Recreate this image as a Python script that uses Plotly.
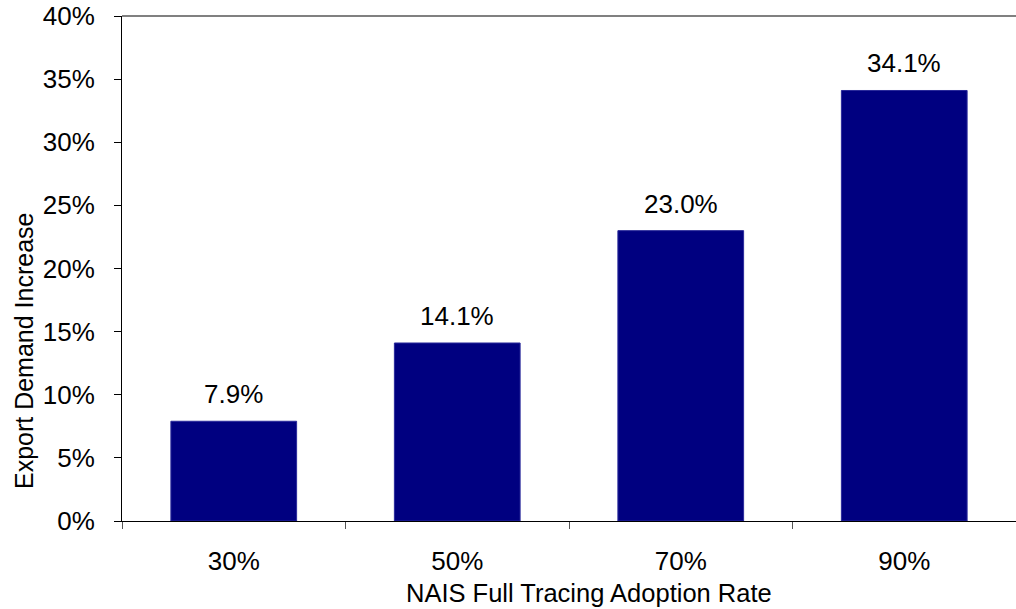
import plotly.graph_objects as go

categories = ["30%", "50%", "70%", "90%"]
values = [7.9, 14.1, 23.0, 34.1]
y_ticks = [0, 5, 10, 15, 20, 25, 30, 35, 40]
y_tick_labels = [f"{v}%" for v in y_ticks]
x_title = "NAIS Full Tracing Adoption Rate"
y_title = "Export Demand Increase"

FONT = "Liberation Sans, Arial, sans-serif"
FS = 26

fig = go.Figure()
fig.add_trace(go.Bar(
    x=categories, y=values,
    marker=dict(color="#000080", line=dict(color="#2a2a9a", width=1)),
    width=0.5625,
    hoverinfo="skip",
))

for c, v in zip(categories, values):
    fig.add_annotation(x=c, y=v, text=f"{v:.1f}%", showarrow=False,
                       xref="x", yref="y", yanchor="bottom", yshift=10,
                       font=dict(family=FONT, size=FS, color="black"))

fig.add_annotation(x=-0.1096, y=0.3366, xref="paper", yref="paper",
                   text=y_title, textangle=-90, showarrow=False,
                   xanchor="center", yanchor="middle",
                   font=dict(family=FONT, size=25, color="black"))
fig.add_annotation(x=0.522, y=-0.1426, xref="paper", yref="paper",
                   text=x_title, showarrow=False,
                   xanchor="center", yanchor="middle",
                   font=dict(family=FONT, size=25.5, color="black"))

# top border of plot area
fig.add_shape(type="line", xref="paper", yref="paper", x0=0, x1=1, y0=1, y1=1,
              line=dict(color="#808080", width=2), layer="above")

fig.update_layout(
    width=1016, height=609,
    margin=dict(l=122, r=0, t=16, b=88, autoexpand=False),
    paper_bgcolor="white", plot_bgcolor="white",
    showlegend=False,
    font=dict(family=FONT, size=FS, color="black"),
    xaxis=dict(
        type="category", range=[-0.5, 3.5],
        tickson="boundaries", ticks="outside", ticklen=7, tickcolor="#555",
        showline=True, linecolor="black", linewidth=1,
        showgrid=False, zeroline=False,
        ticklabelstandoff=17,
        ticklabeloverflow="allow",
        tickfont=dict(family=FONT, size=FS),
    ),
    yaxis=dict(
        range=[0, 40], tickmode="array", tickvals=y_ticks, ticktext=y_tick_labels,
        ticks="outside", ticklen=7, tickcolor="black",
        showline=True, linecolor="black", linewidth=1,
        showgrid=False, zeroline=False,
        ticklabelstandoff=14,
        ticklabeloverflow="allow",
        tickfont=dict(family=FONT, size=FS),
    ),
)

fig.write_html(
    "out.html",
    config={"displayModeBar": False},
    post_script="document.body.style.margin='0';document.body.style.overflow='hidden';",
)
